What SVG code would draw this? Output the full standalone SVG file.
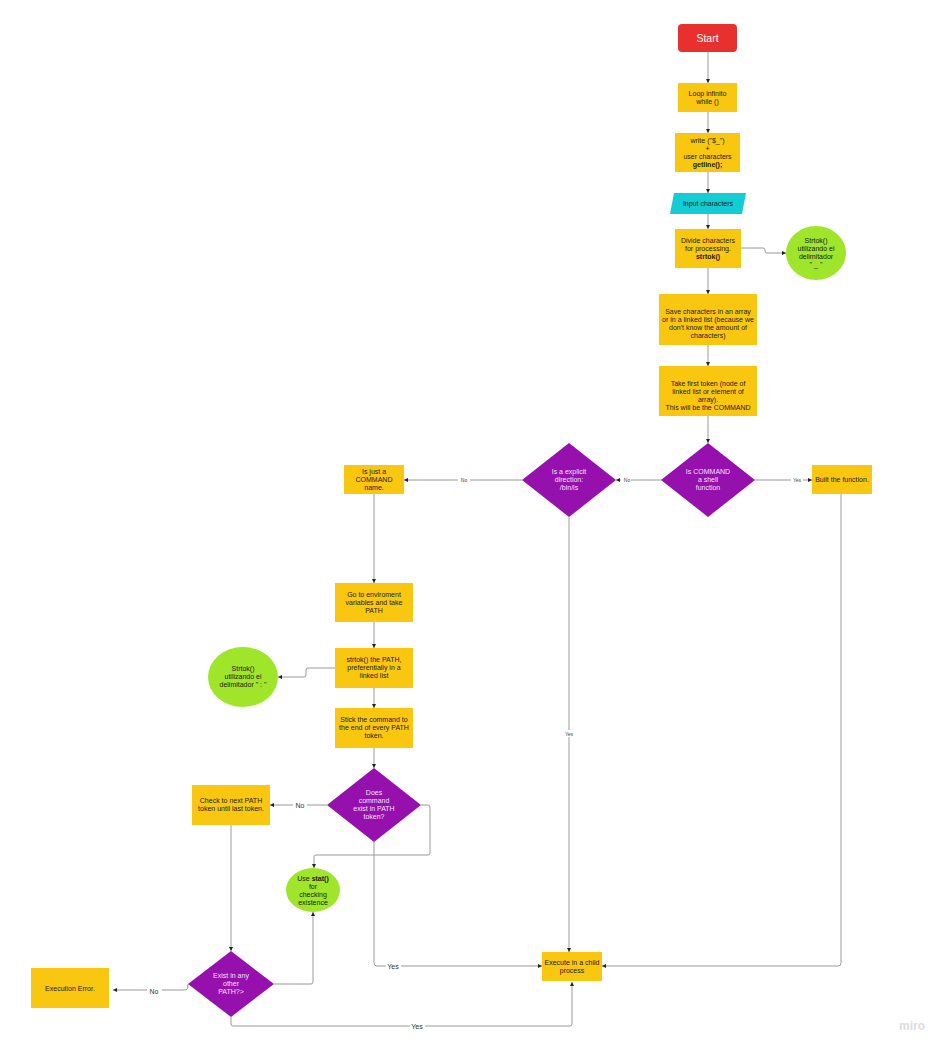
<svg xmlns="http://www.w3.org/2000/svg" width="950" height="1052" viewBox="0 0 950 1052">
  <style>
    .box { fill: #FAC710; }
    .dia { fill: #9510AC; }
    .circ { fill: #9FE52A; }
    .t { font-family: "Liberation Sans", Arial, sans-serif; font-size: 7px; fill: #1a1a1a; text-anchor: middle; }
    .tw { font-family: "Liberation Sans", Arial, sans-serif; font-size: 7px; fill: #F2E0F4; text-anchor: middle; }
    .b { font-weight: bold; }
    .lbl { font-family: "Liberation Sans", Arial, sans-serif; font-size: 5px; fill: #444; text-anchor: middle; }
    .lbl2 { font-family: "Liberation Sans", Arial, sans-serif; font-size: 7px; fill: #333; text-anchor: middle; }
    .c { fill: none; stroke: #9a9a9a; stroke-width: 1; stroke-linejoin: round; }
    .bg { fill: #ffffff; }
  </style>
  <defs>
    <marker id="ah" viewBox="0 0 6 6" refX="6" refY="3" markerWidth="4" markerHeight="4" orient="auto">
      <path d="M0,0 L6,3 L0,6 z" fill="#222"/>
    </marker>
  </defs>
  <rect width="950" height="1052" fill="#ffffff"/>

  <!-- connectors -->
  <g id="connectors">
    <path class="c" d="M708,52 L708,83" marker-end="url(#ah)"/>
    <path class="c" d="M708,112 L708,133" marker-end="url(#ah)"/>
    <path class="c" d="M708,172 L708,193" marker-end="url(#ah)"/>
    <path class="c" d="M708,214 L708,229" marker-end="url(#ah)"/>
    <path class="c" d="M741,248 L763,248 Q765,248 765,250 L765,251 Q765,253 767,253 L786,253" marker-end="url(#ah)"/>
    <path class="c" d="M708,268 L708,294" marker-end="url(#ah)"/>
    <path class="c" d="M708,345 L708,366" marker-end="url(#ah)"/>
    <path class="c" d="M708,416 L708,443" marker-end="url(#ah)"/>
    <!-- shell function: yes / no -->
    <path class="c" d="M755,480 L812,480" marker-end="url(#ah)"/>
    <rect class="bg" x="791" y="476" width="12" height="7"/>
    <text class="lbl" x="797" y="481.5">Yes</text>
    <path class="c" d="M661,480 L616,480" marker-end="url(#ah)"/>
    <rect class="bg" x="621" y="476" width="10" height="7"/>
    <text class="lbl" x="627" y="481.5">No</text>
    <!-- explicit direction: no -->
    <path class="c" d="M522,480 L404,480" marker-end="url(#ah)"/>
    <rect class="bg" x="458" y="476" width="12" height="7"/>
    <text class="lbl" x="464" y="481.5">No</text>
    <!-- explicit direction: yes -->
    <path class="c" d="M569,517 L569,952" marker-end="url(#ah)"/>
    <rect class="bg" x="562" y="730" width="14" height="7"/>
    <text class="lbl" x="569" y="735.5">Yes</text>
    <!-- built function to execute -->
    <path class="c" d="M841,494 L841,963 Q841,966 838,966 L602,966" marker-end="url(#ah)"/>
    <!-- command name branch -->
    <path class="c" d="M374,494 L374,583" marker-end="url(#ah)"/>
    <path class="c" d="M374,622 L374,648" marker-end="url(#ah)"/>
    <path class="c" d="M335,668 L308,668 Q306,668 306,670 L306,675 Q306,677 304,677 L278,677" marker-end="url(#ah)"/>
    <path class="c" d="M374,688 L374,708" marker-end="url(#ah)"/>
    <path class="c" d="M374,748 L374,768" marker-end="url(#ah)"/>
    <!-- does command exist: no -->
    <path class="c" d="M327,805 L270,805" marker-end="url(#ah)"/>
    <rect class="bg" x="293" y="800" width="14" height="9"/>
    <text class="lbl2" x="300" y="807.5">No</text>
    <!-- does command exist: right to stat() -->
    <path class="c" d="M421,805 L428,805 Q430,805 430,807 L430,853 Q430,855 428,855 L316,855 Q314,855 314,857 L314,868" marker-end="url(#ah)"/>
    <!-- does command exist: yes -->
    <path class="c" d="M374,842 L374,963 Q374,966 377,966 L542,966" marker-end="url(#ah)"/>
    <rect class="bg" x="386" y="962" width="15" height="9"/>
    <text class="lbl2" x="393" y="968.5">Yes</text>
    <!-- check next token -->
    <path class="c" d="M231,825 L231,951" marker-end="url(#ah)"/>
    <!-- exist in any other path -->
    <path class="c" d="M274,984 L311,984 Q313,984 313,982 L313,912" marker-end="url(#ah)"/>
    <path class="c" d="M188,984 Q188,990 186,990 L113,990" marker-end="url(#ah)"/>
    <rect class="bg" x="147" y="986" width="15" height="9"/>
    <text class="lbl2" x="154" y="993.5">No</text>
    <path class="c" d="M231,1017 L231,1024 Q231,1026 233,1026 L570,1026 Q572,1026 572,1024 L572,982" marker-end="url(#ah)"/>
    <rect class="bg" x="410" y="1022" width="15" height="9"/>
    <text class="lbl2" x="417" y="1028.5">Yes</text>
  </g>

  <g id="start">
    <rect x="678" y="24" width="59" height="28" rx="4" fill="#E8302E"/>
    <text x="707.5" y="41.5" font-family="Liberation Sans, Arial, sans-serif" font-size="10.5" fill="#ffffff" text-anchor="middle">Start</text>
  </g>
  <g id="loop">
    <rect class="box" x="678" y="83" width="59" height="29"/>
    <text class="t" x="707.5" y="95.5">Loop infinito</text>
    <text class="t" x="707.5" y="104">while ()</text>
  </g>
  <g id="write">
    <rect class="box" x="675" y="133" width="65" height="39"/>
    <text class="t" x="707.5" y="142.5">write ("$_")</text>
    <text class="t" x="707.5" y="150.5">+</text>
    <text class="t" x="707.5" y="158.5">user characters</text>
    <text class="t b" x="707.5" y="166.5">getline();</text>
  </g>
  <g id="input">
    <polygon points="674,193 746,193 742,214 670,214" fill="#12CDD4"/>
    <text class="t" x="708" y="206" fill="#333">Input characters</text>
  </g>
  <g id="divide">
    <rect class="box" x="675" y="229" width="66" height="39"/>
    <text class="t" x="708" y="242.5">Divide characters</text>
    <text class="t" x="708" y="250.5">for processing.</text>
    <text class="t b" x="708" y="258.5">strtok()</text>
  </g>
  <g id="strtok-space">
    <ellipse class="circ" cx="816" cy="253" rx="30" ry="27"/>
    <text class="t" x="816" y="242.5" fill="#333">Strtok()</text>
    <text class="t" x="816" y="250.5" fill="#333">utilizando el</text>
    <text class="t" x="816" y="258.5" fill="#333">delimitador</text>
    <text class="t" x="816" y="266.5" fill="#333">" _ "</text>
  </g>
  <g id="save">
    <rect class="box" x="659" y="294" width="98" height="51"/>
    <text class="t" x="708" y="313.5">Save characters in an array</text>
    <text class="t" x="708" y="321.5">or in a linked list (because we</text>
    <text class="t" x="708" y="329.5">don't know the amount of</text>
    <text class="t" x="708" y="337.5">characters)</text>
  </g>
  <g id="first-token">
    <rect class="box" x="659" y="366" width="98" height="50"/>
    <text class="t" x="708" y="385.5">Take first token (node of</text>
    <text class="t" x="708" y="393.5">linked list or element of</text>
    <text class="t" x="708" y="401.5">array).</text>
    <text class="t" x="708" y="409.5">This will be the COMMAND</text>
  </g>
  <g id="is-shell">
    <polygon class="dia" points="708,443 755,480 708,517 661,480"/>
    <text class="tw" x="708" y="473.5">Is COMMAND</text>
    <text class="tw" x="708" y="481.5">a shell</text>
    <text class="tw" x="708" y="489.5">function</text>
  </g>
  <g id="built">
    <rect class="box" x="812" y="465" width="60" height="29"/>
    <text class="t" x="842" y="482">Built the function.</text>
  </g>
  <g id="is-explicit">
    <polygon class="dia" points="569,443 616,480 569,517 522,480"/>
    <text class="tw" x="569" y="473.5">Is a explicit</text>
    <text class="tw" x="569" y="481.5">direction:</text>
    <text class="tw" x="569" y="489.5">/bin/ls</text>
  </g>
  <g id="command-name">
    <rect class="box" x="344" y="465" width="60" height="29"/>
    <text class="t" x="374" y="473.5">Is just a</text>
    <text class="t" x="374" y="481.5">COMMAND</text>
    <text class="t" x="374" y="489.5">name.</text>
  </g>
  <g id="environment">
    <rect class="box" x="335" y="583" width="78" height="39"/>
    <text class="t" x="374" y="596.5">Go to enviroment</text>
    <text class="t" x="374" y="604.5">variables and take</text>
    <text class="t" x="374" y="612.5">PATH</text>
  </g>
  <g id="strtok-path">
    <rect class="box" x="335" y="648" width="78" height="40"/>
    <text class="t" x="374" y="662">strtok() the PATH,</text>
    <text class="t" x="374" y="670">preferentially in a</text>
    <text class="t" x="374" y="678">linked list</text>
  </g>
  <g id="strtok-colon">
    <ellipse class="circ" cx="243" cy="677" rx="35" ry="30"/>
    <text class="t" x="243" y="670.5" fill="#333">Strtok()</text>
    <text class="t" x="243" y="678.5" fill="#333">utilizando el</text>
    <text class="t" x="243" y="686.5" fill="#333">delimitador " : "</text>
  </g>
  <g id="stick">
    <rect class="box" x="335" y="708" width="78" height="40"/>
    <text class="t" x="374" y="721.5">Stick the command to</text>
    <text class="t" x="374" y="729.5">the end of every PATH</text>
    <text class="t" x="374" y="737.5">token.</text>
  </g>
  <g id="does-exist">
    <polygon class="dia" points="374,768 421,805 374,842 327,805"/>
    <text class="tw" x="374" y="794.5">Does</text>
    <text class="tw" x="374" y="802.5">command</text>
    <text class="tw" x="374" y="810.5">exist in PATH</text>
    <text class="tw" x="374" y="818.5">token?</text>
  </g>
  <g id="check-next">
    <rect class="box" x="192" y="785" width="78" height="40"/>
    <text class="t" x="231" y="802.5">Check to next PATH</text>
    <text class="t" x="231" y="810.5">token until last token.</text>
  </g>
  <g id="stat">
    <ellipse class="circ" cx="313" cy="890" rx="27" ry="22"/>
    <text class="t" x="313" y="880.5" fill="#333">Use <tspan class="b">stat()</tspan></text>
    <text class="t" x="313" y="888.5" fill="#333">for</text>
    <text class="t" x="313" y="896.5" fill="#333">checking</text>
    <text class="t" x="313" y="904.5" fill="#333">existence</text>
  </g>
  <g id="exist-other">
    <polygon class="dia" points="231,951 274,984 231,1017 188,984"/>
    <text class="tw" x="231" y="977.5">Exist in any</text>
    <text class="tw" x="231" y="985.5">other</text>
    <text class="tw" x="231" y="993.5">PATH?&gt;</text>
  </g>
  <g id="execution-error">
    <rect class="box" x="31" y="968" width="78" height="40"/>
    <text class="t" x="70" y="990.5">Execution Error.</text>
  </g>
  <g id="execute">
    <rect class="box" x="542" y="952" width="60" height="29"/>
    <text class="t" x="572" y="964.5">Execute in a child</text>
    <text class="t" x="572" y="972.5">process</text>
  </g>

  <text x="912" y="1030" font-family="Liberation Sans, Arial, sans-serif" font-size="12" font-weight="bold" fill="#DDDDE2" text-anchor="middle">miro</text>
</svg>
